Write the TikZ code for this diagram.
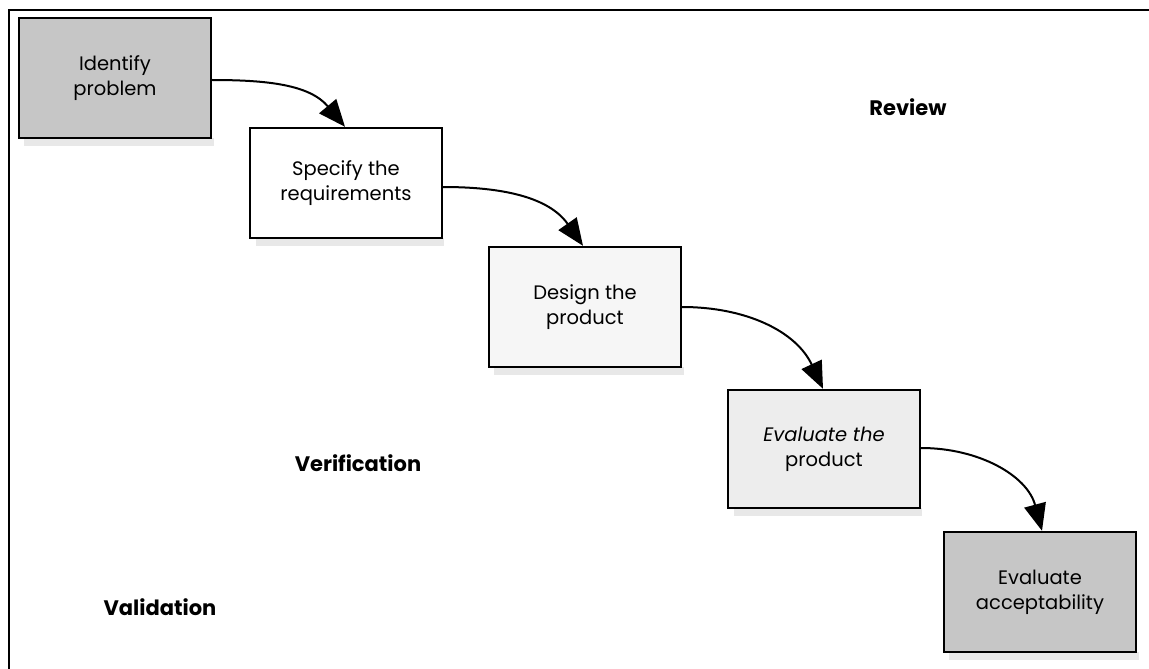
\documentclass[tikz,border=0pt]{standalone}
\usepackage{fontspec}
\setmainfont{Poppins}
\usetikzlibrary{arrows.meta}
\tikzset{
  stage/.style={draw=black, line width=2.4pt, minimum width=#1, align=center,
    font=\fontsize{19.5}{25}\selectfont, inner sep=0pt},
  stage/.default={192pt},
  flow/.style={line width=2pt, -{Triangle[length=27pt,width=22pt]}},
  label/.style={font=\fontsize{21}{24}\selectfont\bfseries},
  shade/.style={fill=gray!18, draw=none}
}
\begin{document}
\begin{tikzpicture}[x=1pt,y=-1pt]
  \useasboundingbox (0,0) rectangle (1149,669);
  \fill[white] (0,0) rectangle (1149,669);
  % frame
  \draw[line width=2.4pt] (9,669) -- (9,10) -- (1149,10);

  % soft shadows under the stages
  \fill[shade] (24,138) rectangle (214,146);
  \fill[shade] (256,238) rectangle (444,246);
  \fill[shade] (494,367) rectangle (684,375);
  \fill[shade] (734,508) rectangle (922,516);
  \fill[shade] (949,652) rectangle (1139,660);

  % stages
  \node[stage, fill=gray!45, minimum height=120pt] (s1) at (115,78) {Identify\\problem};
  \node[stage, fill=white, minimum height=110pt] (s2) at (346,183) {Specify the\\requirements};
  \node[stage, fill=gray!7, minimum height=120pt] (s3) at (585,307) {Design the\\product};
  \node[stage, fill=gray!14, minimum height=118pt] (s4) at (824,449) {\itshape Evaluate the\\product};
  \node[stage, fill=gray!45, minimum height=120pt] (s5) at (1040,592) {Evaluate\\acceptability};

  % connectors
  \draw[flow] (s1.east |- 0,80) to[out=0,in=130] (s2.north -| 345,0);
  \draw[flow] (s2.east |- 0,187) to[out=0,in=125] (s3.north -| 583,0);
  \draw[flow] (s3.east |- 0,307) to[out=0,in=115] (s4.north -| 823,0);
  \draw[flow] (s4.east |- 0,448) to[out=0,in=105] (s5.north -| 1042,0);

  % labels
  \node[label] (review) at (908,107) {Review};
  \node[label] (verif) at (358,463) {Verification};
  \node[label] (valid) at (160,607) {Validation};
\end{tikzpicture}
\end{document}
